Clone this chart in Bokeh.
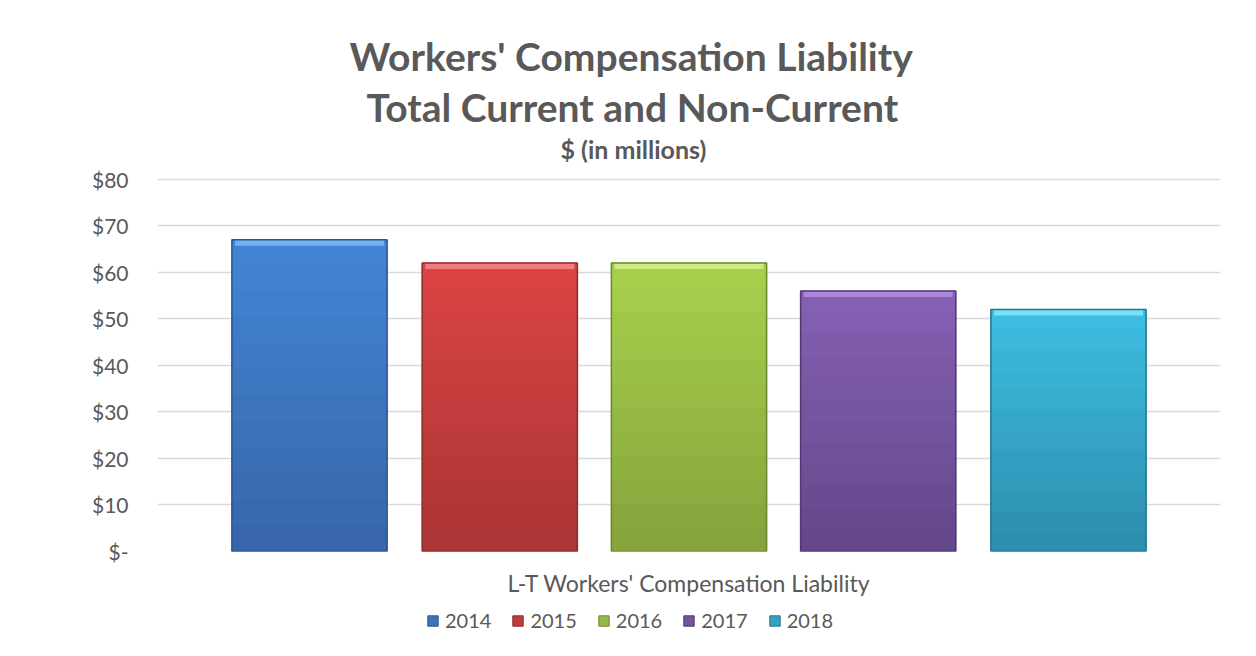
from bokeh.plotting import figure
from bokeh.layouts import column
from bokeh.models import FactorRange, Range1d, FixedTicker, Legend, LegendItem, Title, ColumnDataSource
from bokeh.transform import dodge
from bokeh.embed import file_html
from bokeh.resources import INLINE

category = ["L-T Workers' Compensation Liability"]
years = ["2014", "2015", "2016", "2017", "2018"]
values = [67, 62, 62, 56, 52]
y_ticks = [0, 10, 20, 30, 40, 50, 60, 70, 80]
y_labels = ["$-", "$10", "$20", "$30", "$40", "$50", "$60", "$70", "$80"]

# styling (colours of each bar: top shade, bottom shade, bevel highlight, edge)
tops = ["#4385D5", "#DC4545", "#A8D24C", "#8561B4", "#3DBEE2"]
bottoms = ["#3666A8", "#AA3434", "#84A23B", "#634789", "#2C8DAB"]
highlights = ["#72B2F2", "#F57C7C", "#CDEB7E", "#AC88D8", "#76E2F8"]
edges = ["#2D5690", "#8E2B2B", "#6C8630", "#513A72", "#237690"]
offsets = [-0.357, -0.178, 0.0, 0.178, 0.357]
bar_w = 0.146
N_BANDS = 12

FONT = "Lato"
GREY = "#595959"


def mix(c1, c2, t):
    a = [int(c1[i:i + 2], 16) for i in (1, 3, 5)]
    b = [int(c2[i:i + 2], 16) for i in (1, 3, 5)]
    return "#%02x%02x%02x" % tuple(round(x + (y - x) * t) for x, y in zip(a, b))


p = figure(x_range=FactorRange(factors=category), y_range=Range1d(0, 80.15),
           frame_width=1063, frame_height=373, title=None, toolbar_location=None,
           output_backend="svg", min_border_left=157, min_border_right=20,
           min_border_top=0, min_border_bottom=0)
p.outline_line_color = None
p.background_fill_color = "white"

# small companion figure that only carries the legend below the chart
leg_fig = figure(x_range=FactorRange(factors=category), y_range=Range1d(1000, 1001),
                 width=1240, height=46, title=None, toolbar_location=None,
                 output_backend="svg", x_axis_location=None, y_axis_location=None,
                 min_border=0)
leg_fig.outline_line_color = None
leg_fig.grid.visible = False

items = []
for i in range(len(years)):
    v = values[i]
    xs = dodge("cat", offsets[i], range=p.x_range)
    src = ColumnDataSource(dict(cat=category, top=[v], hl=[v - 1.3]))
    p.vbar(x=xs, top="top", bottom=0, width=bar_w, source=src,
           fill_color=mix(bottoms[i], tops[i], 0.5), line_color=None)
    band_src = ColumnDataSource(dict(
        cat=category * N_BANDS,
        b=[v * k / N_BANDS for k in range(N_BANDS)],
        t=[v * (k + 1) / N_BANDS for k in range(N_BANDS)],
        c=[mix(bottoms[i], tops[i], (k + 0.5) / N_BANDS) for k in range(N_BANDS)]))
    p.vbar(x=xs, top="t", bottom="b", width=bar_w, source=band_src,
           fill_color="c", line_color="c", line_width=0.5)
    p.vbar(x=xs, top="top", bottom="hl", width=bar_w * 0.96, source=src,
           fill_color=highlights[i], line_color=None)
    p.vbar(x=xs, top="top", bottom=0, width=bar_w, source=src,
           fill_alpha=0, line_color=edges[i], line_width=1.5)
    # same bar in the legend figure (far outside its visible range) to give the key glyph
    lr = leg_fig.vbar(x=dodge("cat", offsets[i], range=leg_fig.x_range), top="top",
                      bottom=0, width=bar_w, source=src,
                      fill_color=mix(bottoms[i], tops[i], 0.45), line_color=edges[i])
    items.append(LegendItem(label=years[i], renderers=[lr]))

p.ygrid.grid_line_color = "#D9D9D9"
p.ygrid.grid_line_width = 1.5
p.xgrid.grid_line_color = None
p.yaxis.ticker = FixedTicker(ticks=y_ticks)
p.yaxis.major_label_overrides = {t: l for t, l in zip(y_ticks, y_labels)}
for ax in (p.xaxis[0], p.yaxis[0]):
    ax.axis_line_color = None
    ax.major_tick_line_color = None
    ax.minor_tick_line_color = None
    ax.major_tick_out = 0
    ax.major_tick_in = 0
    ax.major_label_text_font = FONT
    ax.major_label_text_color = GREY
p.yaxis.major_label_text_font_size = "21px"
p.xaxis.major_label_text_font_size = "23px"
p.yaxis.major_label_standoff = 29
p.xaxis.major_label_standoff = 17

legend = Legend(items=items, orientation="horizontal", location=(269, 13),
                label_text_font=FONT, label_text_font_size="20px",
                label_text_color=GREY, glyph_width=13, glyph_height=13,
                label_standoff=6, spacing=20, padding=6, margin=0,
                border_line_color=None, background_fill_alpha=0)
leg_fig.add_layout(legend, "center")

kw = dict(text_font=FONT, text_font_style="bold", text_color=GREY, align="left")
sp_bottom = Title(text=" ", text_font_size="1px", standoff=12, **kw)
t3 = Title(text="$ (in millions)", text_font_size="25px", offset=403, standoff=0, **kw)
t2 = Title(text="Total Current and Non-Current", text_font_size="39px", offset=209, standoff=3, **kw)
t1 = Title(text="Workers' Compensation Liability", text_font_size="39px", offset=192, standoff=3, **kw)
sp_top = Title(text=" ", text_font_size="1px", standoff=26, **kw)
for t in (sp_bottom, t3, t2, t1, sp_top):
    p.add_layout(t, "above")

layout = column(p, leg_fig, spacing=0)
open("out.html", "w").write(file_html(layout, INLINE))
